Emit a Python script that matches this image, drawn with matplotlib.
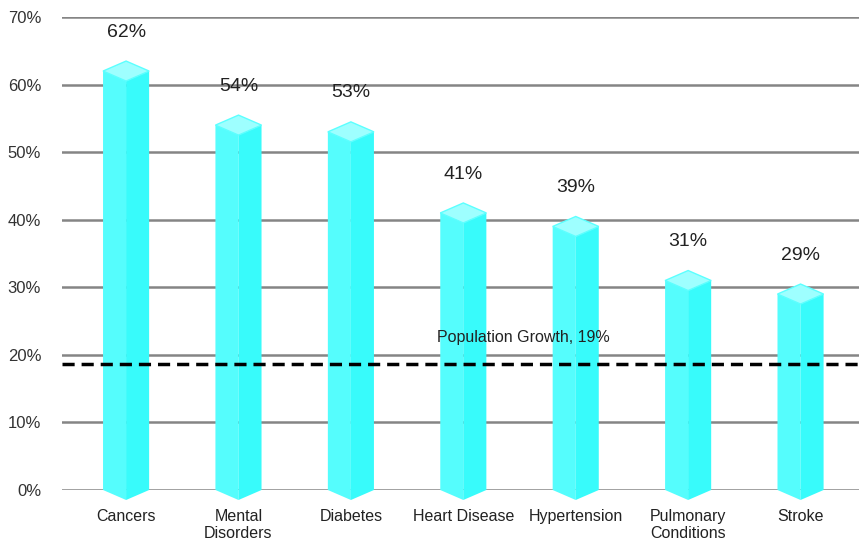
import matplotlib
matplotlib.use("Agg")
import matplotlib.pyplot as plt
from matplotlib.patches import Polygon

# data
categories = ["Cancers", "Mental\nDisorders", "Diabetes", "Heart Disease",
              "Hypertension", "Pulmonary\nConditions", "Stroke"]
values = [62, 54, 53, 41, 39, 31, 29]
value_labels = ["62%", "54%", "53%", "41%", "39%", "31%", "29%"]
pop_growth = 18.6
pop_label = "Population Growth, 19%"
yticks = [0, 10, 20, 30, 40, 50, 60, 70]

plt.rcParams["font.family"] = ["Liberation Sans", "DejaVu Sans"]

fig = plt.figure(figsize=(8.59, 5.45), dpi=100)
ax = fig.add_axes([62 / 859, 1 - 490 / 545, 1 - 62 / 859, (490 - 17) / 545])
ax.set_xlim(-0.57, 6.52)
ax.set_ylim(0, 70)

# horizontal grid lines
for t in yticks:
    ax.axhline(t, color="#858585", lw=1.8, zorder=1)

# pixel -> data helper for the prism caps
px_per_unit = (490 - 17) / 70
dy = 10 / px_per_unit
w = 0.205

left_c, right_c, top_c = "#55fdfd", "#38fbfb", "#9effff"
for i, v in enumerate(values):
    c = i
    left = [(c - w, 0), (c, -dy), (c, v - dy), (c - w, v)]
    right = [(c, -dy), (c + w, 0), (c + w, v), (c, v - dy)]
    top = [(c - w, v), (c, v + dy), (c + w, v), (c, v - dy)]
    ax.add_patch(Polygon(left, closed=True, fc=left_c, ec="none", zorder=2, clip_on=False))
    ax.add_patch(Polygon(right, closed=True, fc=right_c, ec="none", zorder=2, clip_on=False))
    ax.add_patch(Polygon(top, closed=True, fc=top_c, ec="#5cffff", lw=1, zorder=3, clip_on=False))
    ax.annotate(value_labels[i], (c, v), xytext=(0, 28), textcoords="offset points",
                ha="center", va="center", fontsize=14, color="#222222")

# population growth reference
ax.axhline(pop_growth, color="black", lw=2.5, ls=(0, (3.5, 2)), zorder=4)
ax.text(3.53, pop_growth + 2.8, pop_label, ha="center", va="bottom",
        fontsize=11.5, color="#222222", zorder=5)

ax.set_yticks(yticks)
ax.set_yticklabels([f"{t}%" for t in yticks], fontsize=12, color="#333333")
ax.set_xticks(range(len(categories)))
ax.set_xticklabels(categories, fontsize=11.5, color="#222222", linespacing=1.1)
ax.tick_params(axis="y", length=0, pad=15)
ax.tick_params(axis="x", length=0, pad=14)
for s in ax.spines.values():
    s.set_visible(False)

fig.savefig("out.png", dpi=100)
